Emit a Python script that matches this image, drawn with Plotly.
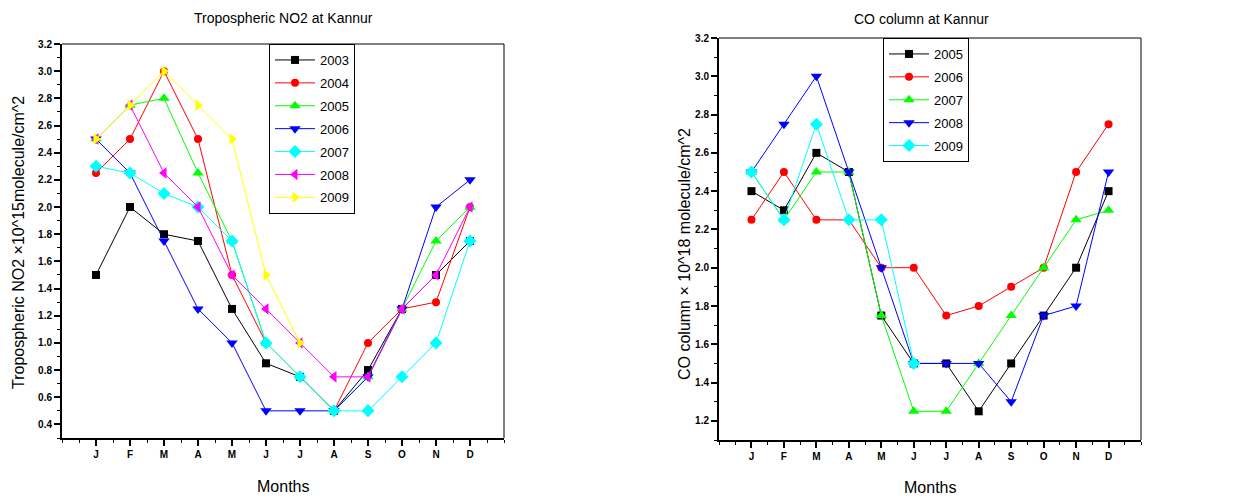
import plotly.graph_objects as go

months = ["J", "F", "M", "A", "M", "J", "J", "A", "S", "O", "N", "D"]
month_index = list(range(1, 13))

# Tropospheric NO2 (x10^15 molecule/cm^2)
no2_years = ["2003", "2004", "2005", "2006", "2007", "2008", "2009"]
no2_2003 = [1.5, 2.0, 1.8, 1.75, 1.25, 0.85, 0.75, 0.5, 0.8, 1.25, 1.5, 1.75]
no2_2004 = [2.25, 2.5, 3.0, 2.5, 1.5, 1.0, 0.75, 0.5, 1.0, 1.25, 1.3, 2.0]
no2_2005 = [2.5, 2.75, 2.8, 2.25, 1.75, 1.0, 0.75, 0.5, 0.75, 1.25, 1.75, 2.0]
no2_2006 = [2.5, 2.25, 1.75, 1.25, 1.0, 0.5, 0.5, 0.5, 0.75, 1.25, 2.0, 2.2]
no2_2007 = [2.3, 2.25, 2.1, 2.0, 1.75, 1.0, 0.75, 0.5, 0.5, 0.75, 1.0, 1.75]
no2_2008 = [2.5, 2.75, 2.25, 2.0, 1.5, 1.25, 1.0, 0.75, 0.75, 1.25, 1.5, 2.0]
no2_2009 = [2.5, 2.75, 3.0, 2.75, 2.5, 1.5, 1.0, None, None, None, None, None]

# CO column (x10^18 molecule/cm^2)
co_years = ["2005", "2006", "2007", "2008", "2009"]
co_2005 = [2.4, 2.3, 2.6, 2.5, 1.75, 1.5, 1.5, 1.25, 1.5, 1.75, 2.0, 2.4]
co_2006 = [2.25, 2.5, 2.25, 2.25, 2.0, 2.0, 1.75, 1.8, 1.9, 2.0, 2.5, 2.75]
co_2007 = [2.5, 2.25, 2.5, 2.5, 1.75, 1.25, 1.25, 1.5, 1.75, 2.0, 2.25, 2.3]
co_2008 = [2.5, 2.75, 3.0, 2.5, 2.0, 1.5, 1.5, 1.5, 1.3, 1.75, 1.8, 2.5]
co_2009 = [2.5, 2.25, 2.75, 2.25, 2.25, 1.5, None, None, None, None, None, None]

no2_series = [no2_2003, no2_2004, no2_2005, no2_2006, no2_2007, no2_2008, no2_2009]
co_series = [co_2005, co_2006, co_2007, co_2008, co_2009]

no2_styles = [("#000000", "square"), ("#ff0000", "circle"), ("#00ff00", "triangle-up"),
              ("#0000ff", "triangle-down"), ("#00ffff", "diamond"),
              ("#ff00ff", "triangle-left"), ("#ffff00", "triangle-right")]
co_styles = [("#000000", "square"), ("#ff0000", "circle"), ("#00ff00", "triangle-up"),
             ("#0000ff", "triangle-down"), ("#00ffff", "diamond")]

# page body has an 8px margin: the figure is shrunk and coordinates shifted by it
OFF = 8
W, H = 1242 - OFF, 500 - OFF
FONT = "Liberation Sans, Arial, sans-serif"

fig = go.Figure()

for i, (name, vals) in enumerate(zip(no2_years, no2_series)):
    color, sym = no2_styles[i]
    size = 8 if sym in ("square", "circle") else 10
    fig.add_trace(go.Scatter(
        x=month_index, y=vals, name=name, mode="lines+markers",
        line=dict(color=color, width=1), marker=dict(symbol=sym, size=size, color=color),
        xaxis="x", yaxis="y", legend="legend", legendgroup="a" + name))

for i, (name, vals) in enumerate(zip(co_years, co_series)):
    color, sym = co_styles[i]
    size = 8 if sym in ("square", "circle") else 10
    fig.add_trace(go.Scatter(
        x=month_index, y=vals, name=name, mode="lines+markers",
        line=dict(color=color, width=1), marker=dict(symbol=sym, size=size, color=color),
        xaxis="x2", yaxis="y2", legend="legend2", legendgroup="b" + name))


def px_x(v):
    return (v - OFF) / W


def px_y(v):
    return 1 - (v - OFF) / H


L1, R1, T1, B1 = 62, 504, 44, 438
L2, R2, T2, B2 = 719, 1141, 38, 440

tickfont = dict(family=FONT, size=10, color="#000000", weight="bold")

xcommon = dict(
    range=[0, 13], tickvals=month_index, ticktext=months,
    showgrid=False, zeroline=False, showline=True, linecolor="#000000", linewidth=2,
    ticks="outside", ticklen=6, tickwidth=1.5, tickcolor="#000000",
    minor=dict(dtick=0.5, tick0=0, ticks="outside", ticklen=3, tickcolor="#000000", tickwidth=1),
    tickfont=tickfont, automargin=False,
)
ycommon = dict(
    dtick=0.2, tickformat=".1f",
    showgrid=False, zeroline=False, showline=True, linecolor="#000000", linewidth=2,
    ticks="outside", ticklen=6, tickwidth=1.5, tickcolor="#000000",
    minor=dict(dtick=0.1, ticks="outside", ticklen=3, tickcolor="#000000", tickwidth=1),
    tickfont=tickfont, automargin=False,
)

legend_common = dict(xanchor="left", yanchor="top",
                     bordercolor="#000000", borderwidth=1, bgcolor="white",
                     font=dict(family=FONT, size=13, color="#000000"),
                     traceorder="grouped", tracegroupgap=3, itemwidth=40)

fig.update_layout(
    width=W, height=H,
    margin=dict(l=0, r=0, t=0, b=0),
    paper_bgcolor="white", plot_bgcolor="white",
    xaxis=dict(domain=[px_x(L1), px_x(R1)], anchor="y", **xcommon),
    yaxis=dict(domain=[px_y(B1), px_y(T1)], anchor="x", range=[0.3, 3.2], tick0=0.4, **ycommon),
    xaxis2=dict(domain=[px_x(L2), px_x(R2)], anchor="y2", **xcommon),
    yaxis2=dict(domain=[px_y(B2), px_y(T2)], anchor="x2", range=[1.1, 3.2], tick0=1.2, **ycommon),
    legend=dict(x=px_x(269), y=px_y(44), **legend_common),
    legend2=dict(x=px_x(883), y=px_y(38), **legend_common),
    showlegend=True,
)

# thin top/right frame lines
for (l, r, t, b) in [(L1, R1, T1, B1), (L2, R2, T2, B2)]:
    fig.add_shape(type="line", xref="paper", yref="paper",
                  x0=px_x(l), x1=px_x(r), y0=px_y(t), y1=px_y(t),
                  line=dict(color="#000000", width=1))
    fig.add_shape(type="line", xref="paper", yref="paper",
                  x0=px_x(r), x1=px_x(r), y0=px_y(t), y1=px_y(b),
                  line=dict(color="#000000", width=1))

annotations = [
    dict(text="Tropospheric NO2 at Kannur", x=px_x(283), y=px_y(18), size=14),
    dict(text="CO column at Kannur", x=px_x(922), y=px_y(19), size=14),
    dict(text="Months", x=px_x(283), y=px_y(486), size=16),
    dict(text="Months", x=px_x(930), y=px_y(487), size=16),
    dict(text="Tropospheric NO2 ×10^15molecule/cm^2", x=px_x(18), y=px_y(243), textangle=-90, size=16),
    dict(text="CO column × 10^18 molecule/cm^2", x=px_x(684), y=px_y(254), textangle=-90, size=16),
]
for a in annotations:
    size = a.pop("size")
    fig.add_annotation(xref="paper", yref="paper", showarrow=False,
                       xanchor="center", yanchor="middle",
                       font=dict(family=FONT, size=size, color="#000000"), **a)

fig.write_html("out.html")
